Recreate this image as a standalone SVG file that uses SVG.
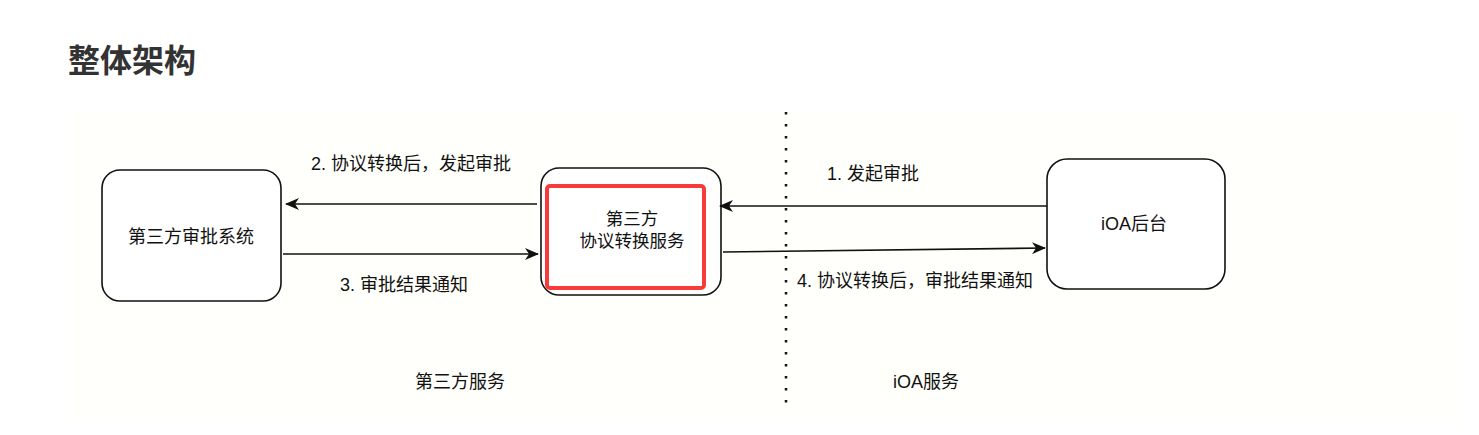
<svg xmlns="http://www.w3.org/2000/svg" width="1479" height="435" viewBox="0 0 1479 435">
<defs>
<style>
.t{font-family:"Liberation Sans","Noto Sans CJK SC",sans-serif;font-size:18px;fill:#111}
.c{text-anchor:middle}
.node{fill:#fff;stroke:#111;stroke-width:1.6}
.edge{stroke:#111;stroke-width:1.6;fill:none}
</style>
<marker id="ah" viewBox="0 0 14 12" refX="13" refY="6" markerWidth="14" markerHeight="12" markerUnits="userSpaceOnUse" orient="auto">
<path d="M0,0 L14,6 L0,12 L4,6 Z" fill="#111"/>
</marker>
</defs>
<rect width="1479" height="435" fill="#fff"/>
<rect x="67" y="112" width="1395" height="314" fill="#fffffb"/>
<text x="68" y="72" style="font-family:'Noto Sans CJK SC',sans-serif;font-size:32px;font-weight:bold;fill:#333">整体架构</text>

<g id="divider">
<line x1="786" y1="112" x2="786" y2="412" stroke="#111" stroke-width="2.5" stroke-dasharray="2.5 9.5"/>
</g>

<g id="node-third-party-system">
<rect class="node" x="102" y="170" width="179" height="131" rx="18"/>
<text class="t c" x="191" y="243">第三方审批系统</text>
</g>

<g id="node-protocol-service">
<rect class="node" x="541" y="168" width="180" height="127" rx="18"/>
<rect x="547" y="186" width="157" height="102" rx="3" fill="none" stroke="#f83a3a" stroke-width="4"/>
<text class="t c" style="font-size:17.5px"><tspan x="632" y="225">第三方</tspan><tspan x="632" y="247">协议转换服务</tspan></text>
</g>

<g id="node-ioa">
<rect class="node" x="1047" y="159" width="178" height="130" rx="20"/>
<text class="t c" x="1134" y="230">iOA后台</text>
</g>

<g id="connectors">
<line class="edge" x1="537" y1="204" x2="286" y2="204" marker-end="url(#ah)"/>
<line class="edge" x1="283" y1="254" x2="538" y2="254" marker-end="url(#ah)"/>
<line class="edge" x1="1047" y1="206" x2="720" y2="206" marker-end="url(#ah)"/>
<line class="edge" x1="723" y1="252" x2="1045" y2="248" marker-end="url(#ah)"/>
</g>

<g id="labels">
<text class="t" x="311" y="170">2. 协议转换后，发起审批</text>
<text class="t" x="340" y="291">3. 审批结果通知</text>
<text class="t" x="827" y="180">1. 发起审批</text>
<text class="t" x="797" y="287">4. 协议转换后，审批结果通知</text>
<text class="t c" x="460" y="388">第三方服务</text>
<text class="t" x="893" y="388">iOA服务</text>
</g>
</svg>
